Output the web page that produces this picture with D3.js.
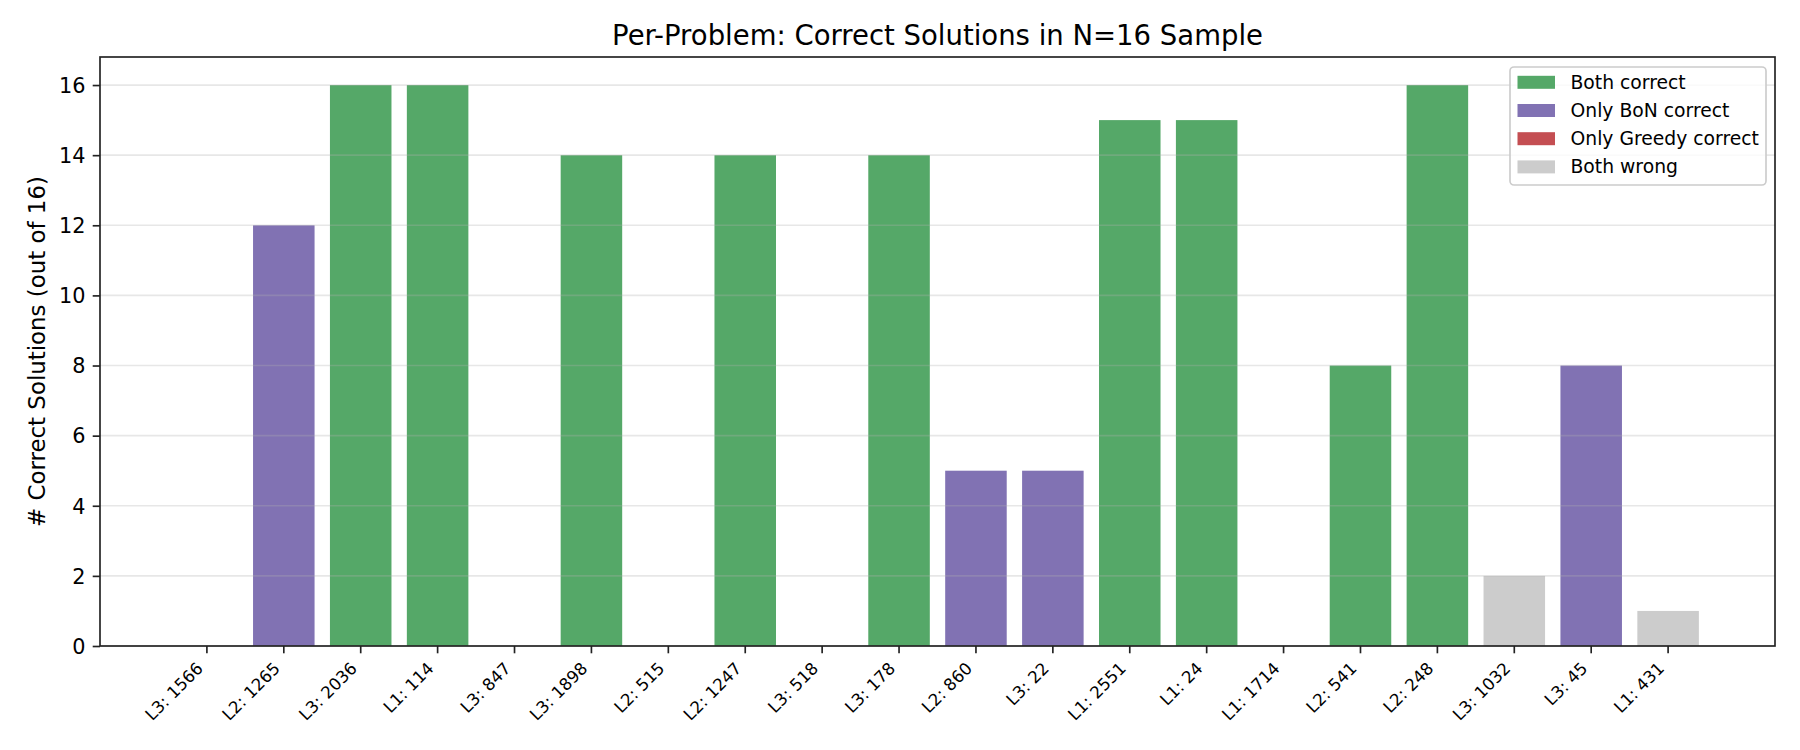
<!DOCTYPE html>
<html>
<head>
<meta charset="utf-8">
<script src="https://cdn.jsdelivr.net/npm/d3@7"></script>
<style>
    body { margin: 0; background: white; }
    text { font-family: "DejaVu Sans", sans-serif; fill: #000; }
</style>
</head>
<body>
<div id="chart"></div>
<script>
// Data
var problems = [
    "L3: 1566", "L2: 1265", "L3: 2036", "L1: 114", "L3: 847",
    "L3: 1898", "L2: 515", "L2: 1247", "L3: 518", "L3: 178",
    "L2: 860", "L3: 22", "L1: 2551", "L1: 24", "L1: 1714",
    "L2: 541", "L2: 248", "L3: 1032", "L3: 45", "L1: 431"
];
var correctCounts = [0, 12, 16, 16, 0, 14, 0, 14, 0, 14, 5, 5, 15, 15, 0, 8, 16, 2, 8, 1];
var outcomes = [
    "wrong", "bon", "both", "both", "wrong",
    "both", "wrong", "both", "wrong", "both",
    "bon", "bon", "both", "both", "wrong",
    "both", "both", "wrong", "bon", "wrong"
];
var legendKeys = ["both", "bon", "greedy", "wrong"];
var legendLabels = ["Both correct", "Only BoN correct", "Only Greedy correct", "Both wrong"];
var legendColors = ["#55A868", "#8172B3", "#C44E52", "#CCCCCC"];
var yTicks = [0, 2, 4, 6, 8, 10, 12, 14, 16];

var W = 1800, H = 750;
var margin = {left: 100, right: 25, top: 57, bottom: 104};

var svg = d3.select("#chart").append("svg")
    .attr("width", W)
    .attr("height", H);

var x = d3.scaleBand()
    .domain(problems)
    .range([margin.left, W - margin.right])
    .paddingInner(0.2)
    .paddingOuter(0.99);

var y = d3.scaleLinear()
    .domain([0, 16.8])
    .range([H - margin.bottom, margin.top]);

var color = d3.scaleOrdinal().domain(legendKeys).range(legendColors);

// bars
svg.append("g")
    .selectAll("rect")
    .data(problems)
    .enter()
    .append("rect")
    .attr("x", function(d) { return x(d); })
    .attr("width", x.bandwidth())
    .attr("y", function(d, i) { return y(correctCounts[i]); })
    .attr("height", function(d, i) { return y(0) - y(correctCounts[i]); })
    .attr("fill", function(d, i) { return color(outcomes[i]); });

// grid (matplotlib draws it over the bars)
svg.append("g")
    .selectAll("line")
    .data(yTicks)
    .enter()
    .append("line")
    .attr("x1", margin.left)
    .attr("x2", W - margin.right)
    .attr("y1", function(d) { return y(d); })
    .attr("y2", function(d) { return y(d); })
    .attr("stroke", "#b0b0b0")
    .attr("stroke-opacity", 0.3)
    .attr("stroke-width", 1.67);

// y axis
var yAxis = svg.append("g")
    .attr("transform", "translate(" + margin.left + ",0)")
    .call(d3.axisLeft(y).tickValues(yTicks).tickSize(7.3).tickPadding(7.3));
yAxis.select(".domain").remove();
yAxis.selectAll("line").attr("stroke", "#222").attr("stroke-width", 1.67);
yAxis.selectAll("text")
    .style("font-size", "20.8px")
    .attr("dy", "0.35em");

// x axis
var xAxis = svg.append("g")
    .attr("transform", "translate(0," + (H - margin.bottom) + ")")
    .call(d3.axisBottom(x).tickSize(7.3).tickFormat(""));
xAxis.select(".domain").remove();
xAxis.selectAll("line").attr("stroke", "#222").attr("stroke-width", 1.67);

svg.append("g")
    .selectAll("text")
    .data(problems)
    .enter()
    .append("text")
    .attr("transform", function(d) {
        var px = x(d) + x.bandwidth() / 2 - 2.8;
        var py = H - margin.bottom + 23.6;
        return "translate(" + px + "," + py + ") rotate(-45)";
    })
    .attr("text-anchor", "end")
    .style("font-size", "16.7px")
    .text(function(d) { return d; });

// spines
svg.append("rect")
    .attr("x", margin.left)
    .attr("y", margin.top)
    .attr("width", W - margin.left - margin.right)
    .attr("height", H - margin.top - margin.bottom)
    .attr("fill", "none")
    .attr("stroke", "#222")
    .attr("stroke-width", 1.67);

// title + y label
svg.append("text")
    .attr("x", (margin.left + W - margin.right) / 2)
    .attr("y", 45)
    .attr("text-anchor", "middle")
    .style("font-size", "27.5px")
    .text("Per-Problem: Correct Solutions in N=16 Sample");

svg.append("text")
    .attr("transform", "translate(45," + (margin.top + (H - margin.bottom)) / 2 + ") rotate(-90)")
    .attr("text-anchor", "middle")
    .style("font-size", "22.9px")
    .text("# Correct Solutions (out of 16)");

// legend
var legendX = 1510, legendY = 67, rowH = 28.2;
var legend = svg.append("g");
legend.append("rect")
    .attr("x", legendX)
    .attr("y", legendY)
    .attr("width", 256)
    .attr("height", 118)
    .attr("rx", 4)
    .attr("fill", "white")
    .attr("fill-opacity", 0.8)
    .attr("stroke", "#cccccc")
    .attr("stroke-width", 1.67);

var rows = legend.selectAll(".row")
    .data(legendLabels)
    .enter()
    .append("g")
    .attr("class", "row")
    .attr("transform", function(d, i) {
        return "translate(" + legendX + "," + (legendY + 15.3 + i * rowH) + ")";
    });
rows.append("rect")
    .attr("x", 7.5)
    .attr("y", -6.5)
    .attr("width", 37.5)
    .attr("height", 13)
    .attr("fill", function(d, i) { return legendColors[i]; });
rows.append("text")
    .attr("x", 60.5)
    .attr("dy", "0.35em")
    .style("font-size", "18.75px")
    .text(function(d) { return d; });
</script>
</body>
</html>
